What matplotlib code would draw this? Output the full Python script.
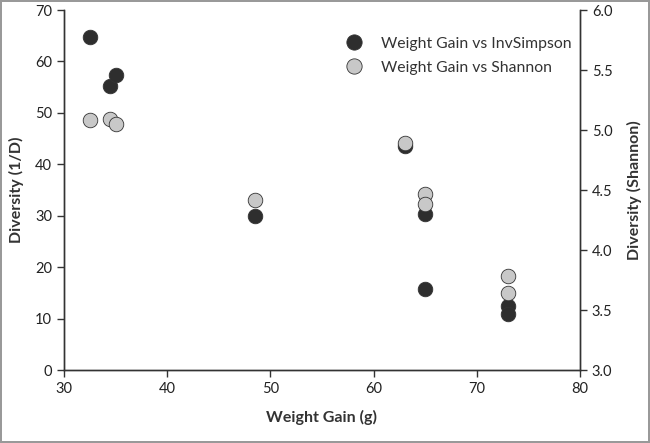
import matplotlib
matplotlib.use("Agg")
import matplotlib.pyplot as plt
from matplotlib.lines import Line2D

plt.rcParams['font.family'] = ['Lato', 'DejaVu Sans']

weight_gain = [32.5, 34.5, 35.0, 48.5, 63.0, 65.0, 65.0, 73.0, 73.0]
inv_simpson = [64.7, 55.2, 57.4, 30.0, 43.6, 30.3, 15.8, 12.4, 10.9]
weight_gain_sh = [32.5, 34.5, 35.0, 48.5, 63.0, 65.0, 65.0, 73.0, 73.0]
shannon = [5.087, 5.09, 5.05, 4.42, 4.89, 4.47, 4.38, 3.78, 3.64]

x_ticks = [30, 40, 50, 60, 70, 80]
left_ticks = [0, 10, 20, 30, 40, 50, 60, 70]
right_ticks = [3.0, 3.5, 4.0, 4.5, 5.0, 5.5, 6.0]

fig = plt.figure(figsize=(6.5, 4.43), dpi=100)
fig.patch.set_edgecolor('#999999')
fig.patch.set_linewidth(1.5)
ax = fig.add_axes([64/650, 1-370/443, (580-64)/650, 360/443])
ax2 = ax.twinx()

dark = '#2e2e2e'
light = '#c8c8c8'
edge = '#333333'

ax.scatter(weight_gain, inv_simpson, s=110, c=dark, edgecolors=edge, linewidths=0.6, zorder=3)
ax2.scatter(weight_gain_sh, shannon, s=110, c=light, edgecolors=edge, linewidths=0.6, zorder=3)

ax.set_xlim(30, 80)
ax.set_ylim(0, 70)
ax2.set_ylim(3.0, 6.0)
ax.set_xticks(x_ticks)
ax.set_yticks(left_ticks)
ax2.set_yticks(right_ticks)
ax2.set_yticklabels([f"{v:.1f}" for v in right_ticks])

for a in (ax, ax2):
    a.spines['top'].set_visible(False)
    for s in a.spines.values():
        s.set_color('#333333')
        s.set_linewidth(1.0)
    a.tick_params(direction='out', length=5, width=1, colors='#333333', labelsize=10.5, labelcolor='#222222')

ax.set_xlabel('Weight Gain (g)', fontsize=11.5, fontweight='bold', color='#333333', labelpad=10)
ax.set_ylabel('Diversity (1/D)', fontsize=11.5, fontweight='bold', color='#333333', labelpad=8)
ax2.set_ylabel('Diversity (Shannon)', fontsize=11.5, fontweight='bold', color='#333333', labelpad=10)

handles = [
    Line2D([], [], marker='o', linestyle='none', markersize=11, markerfacecolor=dark, markeredgecolor=edge, markeredgewidth=0.6),
    Line2D([], [], marker='o', linestyle='none', markersize=11, markerfacecolor=light, markeredgecolor=edge, markeredgewidth=0.6),
]
leg = ax.legend(handles, ['Weight Gain vs InvSimpson', 'Weight Gain vs Shannon'],
                loc='upper right', bbox_to_anchor=(1.012, 0.965), frameon=False,
                fontsize=11.3, handletextpad=0.75, labelspacing=0.65)
for t in leg.get_texts():
    t.set_color('#333333')

fig.savefig('out.png', dpi=100, edgecolor=fig.get_edgecolor())
